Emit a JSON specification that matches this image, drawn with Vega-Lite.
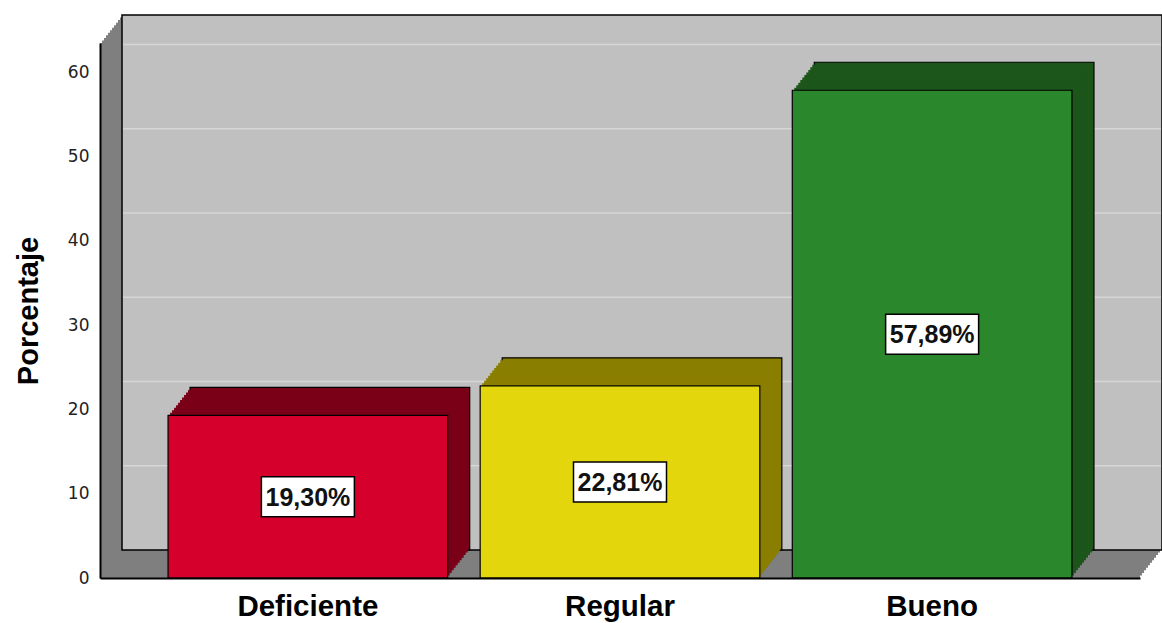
{
  "$schema": "https://vega.github.io/schema/vega-lite/v6.json",
  "width": 1040,
  "height": 535,
  "autosize": {"type": "none"},
  "padding": {"left": 100, "top": 43, "right": 22, "bottom": 45},
  "background": "white",
  "config": {"view": {"stroke": null}, "font": "Liberation Sans"},
  "datasets": {
    "main": [
      {"cat": "Deficiente", "pct": 19.30, "label": "19,30%"},
      {"cat": "Regular", "pct": 22.81, "label": "22,81%"},
      {"cat": "Bueno", "pct": 57.89, "label": "57,89%"}
    ],
    "grid": [{"g": 10}, {"g": 20}, {"g": 30}, {"g": 40}, {"g": 50}, {"g": 60}],
    "one": [{"k": 1}]
  },
  "data": {"name": "main"},
  "resolve": {"scale": {"x": "independent"}},
  "layer": [
    {
      "layer": [
        {
          "data": {"name": "one"},
          "encoding": {
            "x": {"datum": 0, "type": "quantitative", "scale": {"domain": [0, 1], "nice": false}, "axis": null},
            "x2": {"datum": 1},
            "y": {"datum": 0, "type": "quantitative", "scale": {"domain": [0, 63.5], "nice": false, "zero": true}},
            "y2": {"datum": 63.5}
          },
          "layer": [
            {"mark": {"type": "rect", "fill": "#7f7f7f", "xOffset": 20, "x2Offset": 20, "yOffset": -25.45, "y2Offset": -25.45}},
            {"mark": {"type": "rect", "fill": "#7f7f7f", "xOffset": 18, "x2Offset": 18, "yOffset": -22.91, "y2Offset": -22.91}},
            {"mark": {"type": "rect", "fill": "#7f7f7f", "xOffset": 16, "x2Offset": 16, "yOffset": -20.36, "y2Offset": -20.36}},
            {"mark": {"type": "rect", "fill": "#7f7f7f", "xOffset": 14, "x2Offset": 14, "yOffset": -17.82, "y2Offset": -17.82}},
            {"mark": {"type": "rect", "fill": "#7f7f7f", "xOffset": 12, "x2Offset": 12, "yOffset": -15.27, "y2Offset": -15.27}},
            {"mark": {"type": "rect", "fill": "#7f7f7f", "xOffset": 10, "x2Offset": 10, "yOffset": -12.73, "y2Offset": -12.73}},
            {"mark": {"type": "rect", "fill": "#7f7f7f", "xOffset": 8, "x2Offset": 8, "yOffset": -10.18, "y2Offset": -10.18}},
            {"mark": {"type": "rect", "fill": "#7f7f7f", "xOffset": 6, "x2Offset": 6, "yOffset": -7.64, "y2Offset": -7.64}},
            {"mark": {"type": "rect", "fill": "#7f7f7f", "xOffset": 4, "x2Offset": 4, "yOffset": -5.09, "y2Offset": -5.09}},
            {"mark": {"type": "rect", "fill": "#7f7f7f", "xOffset": 2, "x2Offset": 2, "yOffset": -2.55, "y2Offset": -2.55}},
            {"mark": {"type": "rect", "fill": "#7f7f7f"}},
            {"mark": {"type": "rect", "fill": "#c0c0c0", "stroke": "#000000", "strokeWidth": 1.5, "xOffset": 22, "x2Offset": 22, "yOffset": -28, "y2Offset": -28}}
          ]
        },
        {
          "data": {"name": "grid"},
          "mark": {"type": "rule", "color": "#d6d6d6", "strokeWidth": 1.5, "xOffset": 23, "x2Offset": 21, "yOffset": -28, "y2Offset": -28},
          "encoding": {
            "x": {"datum": 0, "type": "quantitative", "axis": null},
            "x2": {"datum": 1},
            "y": {"field": "g", "type": "quantitative"}
          }
        }
      ]
    },
    {
      "encoding": {
        "x": {
          "field": "cat", "type": "nominal", "sort": null,
          "scale": {"paddingInner": 0.104, "paddingOuter": 0.218},
          "axis": {
            "title": null, "labelAngle": 0, "ticks": false, "domain": true, "domainColor": "#000000", "domainWidth": 2,
            "labelFontSize": 29.5, "labelFontWeight": "bold", "labelColor": "#000000", "labelPadding": 14, "zindex": 1,
            "labelFont": "Liberation Sans"
          }
        },
        "y": {
          "field": "pct", "type": "quantitative",
          "axis": {
            "title": "Porcentaje", "titleFontSize": 29, "titleFontWeight": "bold", "titleColor": "#000000", "titlePadding": 24,
            "titleFont": "Liberation Sans",
            "values": [0, 10, 20, 30, 40, 50, 60], "grid": false, "ticks": false, "domain": true, "domainColor": "#000000", "domainWidth": 2,
            "labelFontSize": 17, "labelColor": "#222222", "labelPadding": 11, "zindex": 1, "labelFont": "DejaVu Sans"
          }
        }
      },
      "layer": [
        {"mark": {"type": "bar", "stroke": "#000000", "strokeWidth": 1.2, "xOffset": 22, "x2Offset": 22, "yOffset": -28, "y2Offset": -28},
         "encoding": {"fill": {"field": "cat", "type": "nominal", "sort": null, "legend": null, "scale": {"domain": ["Deficiente", "Regular", "Bueno"], "range": ["#7a0018", "#8a7e00", "#1d561b"]}}}},
        {"mark": {"type": "bar", "xOffset": 20, "x2Offset": 20, "yOffset": -25.45, "y2Offset": -25.45}, "encoding": {"fill": {"field": "cat", "type": "nominal", "sort": null, "legend": null}}},
        {"mark": {"type": "bar", "xOffset": 18, "x2Offset": 18, "yOffset": -22.91, "y2Offset": -22.91}, "encoding": {"fill": {"field": "cat", "type": "nominal", "sort": null, "legend": null}}},
        {"mark": {"type": "bar", "xOffset": 16, "x2Offset": 16, "yOffset": -20.36, "y2Offset": -20.36}, "encoding": {"fill": {"field": "cat", "type": "nominal", "sort": null, "legend": null}}},
        {"mark": {"type": "bar", "xOffset": 14, "x2Offset": 14, "yOffset": -17.82, "y2Offset": -17.82}, "encoding": {"fill": {"field": "cat", "type": "nominal", "sort": null, "legend": null}}},
        {"mark": {"type": "bar", "xOffset": 12, "x2Offset": 12, "yOffset": -15.27, "y2Offset": -15.27}, "encoding": {"fill": {"field": "cat", "type": "nominal", "sort": null, "legend": null}}},
        {"mark": {"type": "bar", "xOffset": 10, "x2Offset": 10, "yOffset": -12.73, "y2Offset": -12.73}, "encoding": {"fill": {"field": "cat", "type": "nominal", "sort": null, "legend": null}}},
        {"mark": {"type": "bar", "xOffset": 8, "x2Offset": 8, "yOffset": -10.18, "y2Offset": -10.18}, "encoding": {"fill": {"field": "cat", "type": "nominal", "sort": null, "legend": null}}},
        {"mark": {"type": "bar", "xOffset": 6, "x2Offset": 6, "yOffset": -7.64, "y2Offset": -7.64}, "encoding": {"fill": {"field": "cat", "type": "nominal", "sort": null, "legend": null}}},
        {"mark": {"type": "bar", "xOffset": 4, "x2Offset": 4, "yOffset": -5.09, "y2Offset": -5.09}, "encoding": {"fill": {"field": "cat", "type": "nominal", "sort": null, "legend": null}}},
        {"mark": {"type": "bar", "xOffset": 2, "x2Offset": 2, "yOffset": -2.55, "y2Offset": -2.55}, "encoding": {"fill": {"field": "cat", "type": "nominal", "sort": null, "legend": null}}},
        {"mark": {"type": "bar", "stroke": "#000000", "strokeWidth": 1.2},
         "encoding": {"color": {"field": "cat", "type": "nominal", "sort": null, "legend": null, "scale": {"domain": ["Deficiente", "Regular", "Bueno"], "range": ["#d6002c", "#e3d60c", "#2b872b"]}}}},
        {
          "transform": [{"calculate": "datum.pct / 2", "as": "mid"}],
          "encoding": {"y": {"field": "mid", "type": "quantitative"}},
          "layer": [
            {"mark": {"type": "point", "shape": "M-0.93,-0.4H0.93V0.4H-0.93Z", "size": 10000, "filled": true, "fill": "#ffffff", "stroke": "#000000", "strokeWidth": 1.5, "opacity": 1}},
            {"mark": {"type": "text", "fontSize": 25, "fontWeight": "bold", "color": "#111111", "font": "Liberation Sans", "baseline": "middle", "align": "center", "dy": 1},
             "encoding": {"text": {"field": "label"}}}
          ]
        }
      ]
    }
  ]
}
